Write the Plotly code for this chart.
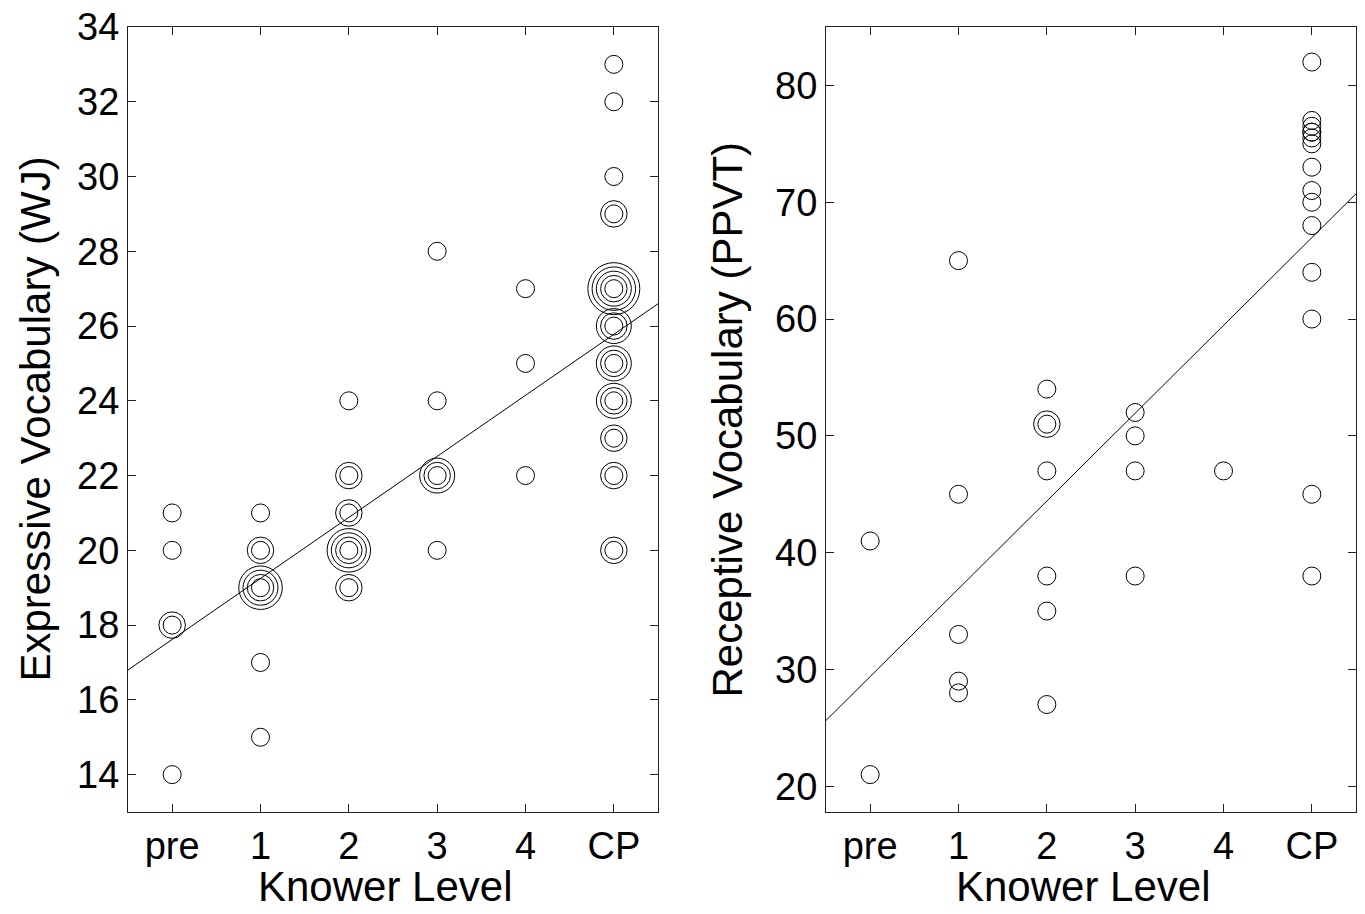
import numpy as np
import plotly.graph_objects as go

levels = ["pre", "1", "2", "3", "4", "CP"]

# Left panel: Expressive Vocabulary (WJ); count = number of coincident children (concentric rings)
wj_level = [0, 0, 0, 0,
            1, 1, 1, 1, 1,
            2, 2, 2, 2, 2,
            3, 3, 3, 3,
            4, 4, 4,
            5, 5, 5, 5, 5, 5, 5, 5, 5, 5, 5]
wj_score = [21, 20, 18, 14,
            21, 20, 19, 17, 15,
            24, 22, 21, 20, 19,
            28, 24, 22, 20,
            27, 25, 22,
            33, 32, 30, 29, 27, 26, 25, 24, 23, 22, 20]
wj_count = [1, 1, 2, 1,
            1, 2, 4, 1, 1,
            1, 2, 2, 4, 2,
            1, 1, 3, 1,
            1, 1, 1,
            1, 1, 1, 2, 5, 3, 3, 3, 2, 2, 2]

# Right panel: Receptive Vocabulary (PPVT)
ppvt_level = [0, 0,
              1, 1, 1, 1, 1,
              2, 2, 2, 2, 2, 2,
              3, 3, 3, 3,
              4,
              5, 5, 5, 5, 5, 5, 5, 5, 5, 5, 5, 5, 5, 5, 5]
ppvt_score = [41, 21,
              65, 45, 33, 29, 28,
              54, 51, 47, 38, 35, 27,
              52, 50, 47, 38,
              47,
              82, 77, 76.5, 76, 75.5, 75, 73, 71, 70, 68, 64, 60, 45, 38, 76]
ppvt_count = [1, 1,
              1, 1, 1, 1, 1,
              1, 2, 1, 1, 1, 1,
              1, 1, 1, 1,
              1,
              1, 1, 1, 1, 1, 1, 1, 1, 1, 1, 1, 1, 1, 1, 1]

W, H = 1365, 914
FONT = "Liberation Sans, Arial, Helvetica, sans-serif"
BASE = 18
STEP = 8.5

fig = go.Figure()


def add_panel(lv, sc, ct, xa, ya):
    lv = np.array(lv, float)
    sc = np.array(sc, float)
    ct = np.array(ct, int)
    for k in range(ct.max()):
        m = ct > k
        fig.add_trace(go.Scatter(
            x=lv[m], y=sc[m], mode="markers", xaxis=xa, yaxis=ya,
            marker=dict(symbol="circle-open", size=BASE + STEP * k,
                        color="black", line=dict(width=1, color="black")),
            showlegend=False, hoverinfo="x+y"))
    xs = np.repeat(lv, ct)
    ys = np.repeat(sc, ct)
    slope, icpt = np.polyfit(xs, ys, 1)
    xl = np.array([-0.5, 5.5])
    fig.add_trace(go.Scatter(
        x=xl, y=icpt + slope * xl, mode="lines", xaxis=xa, yaxis=ya,
        line=dict(color="black", width=1), showlegend=False, hoverinfo="skip"))


add_panel(wj_level, wj_score, wj_count, "x", "y")
add_panel(ppvt_level, ppvt_score, ppvt_count, "x2", "y2")

axcommon = dict(showline=True, linecolor="#222", linewidth=1, mirror="ticks",
                ticks="inside", ticklen=8, tickcolor="#222", showgrid=False,
                zeroline=False, tickfont=dict(family=FONT, size=38, color="black"))

TF = dict(family=FONT, size=42, color="black")
ty = (812 - 886) / 785

fig.update_layout(
    width=W, height=H, paper_bgcolor="white", plot_bgcolor="white",
    margin=dict(l=0, r=0, t=27, b=102),
    xaxis=dict(domain=[128 / W, 658 / W], range=[-0.5, 5.5], tickvals=list(range(6)),
               ticktext=levels, anchor="y", **axcommon),
    yaxis=dict(domain=[0, 1], range=[13, 34], tickvals=list(range(14, 35, 2)),
               anchor="x", **axcommon),
    xaxis2=dict(domain=[826 / W, 1356 / W], range=[-0.5, 5.5], tickvals=list(range(6)),
                ticktext=levels, anchor="y2", **axcommon),
    yaxis2=dict(domain=[0, 1], range=[17.8, 85], tickvals=list(range(20, 81, 10)),
                anchor="x2", **axcommon),
    annotations=[
        dict(text="Knower Level", x=385 / W, y=ty, xref="paper", yref="paper",
             showarrow=False, font=TF, xanchor="center", yanchor="middle"),
        dict(text="Knower Level", x=1083 / W, y=ty, xref="paper", yref="paper",
             showarrow=False, font=TF, xanchor="center", yanchor="middle"),
        dict(text="Expressive Vocabulary (WJ)", x=35 / W, y=0.5, xref="paper", yref="paper",
             textangle=-90, showarrow=False, font=TF, xanchor="center", yanchor="middle"),
        dict(text="Receptive Vocabulary (PPVT)", x=727 / W, y=0.5, xref="paper", yref="paper",
             textangle=-90, showarrow=False, font=TF, xanchor="center", yanchor="middle"),
    ],
)

fig.write_html("out.html")
